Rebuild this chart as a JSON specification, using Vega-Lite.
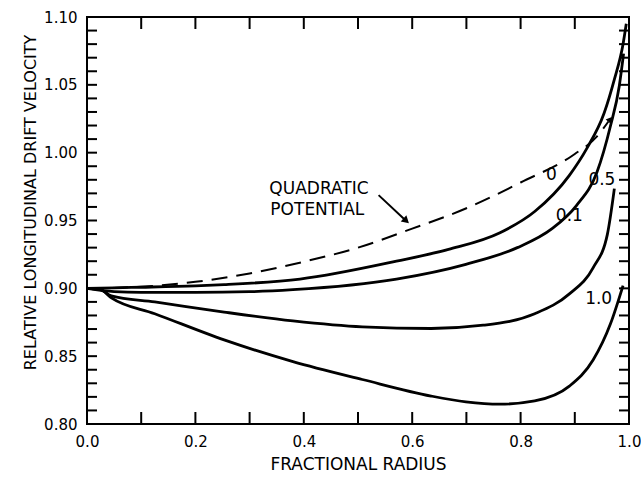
{
  "$schema": "https://vega.github.io/schema/vega-lite/v6.json",
  "width": 542,
  "height": 407,
  "autosize": "none",
  "padding": {"left": 87, "top": 17, "right": 12, "bottom": 54},
  "background": "white",
  "config": {
    "view": {"stroke": "black", "strokeWidth": 2},
    "font": "DejaVu Sans",
    "axis": {"domain": false, "ticks": false, "labelColor": "black", "titleColor": "black", "labelFont": "DejaVu Sans", "titleFont": "DejaVu Sans", "titleFontWeight": "normal", "grid": false}
  },
  "datasets": {
    "curves": [
      {"s": "0", "x": 0, "y": 0.9},
      {"s": "0", "x": 0.05, "y": 0.9004},
      {"s": "0", "x": 0.1, "y": 0.9008},
      {"s": "0", "x": 0.2, "y": 0.9018},
      {"s": "0", "x": 0.253, "y": 0.9027},
      {"s": "0", "x": 0.393, "y": 0.9068},
      {"s": "0", "x": 0.571, "y": 0.92},
      {"s": "0", "x": 0.667, "y": 0.9287},
      {"s": "0", "x": 0.762, "y": 0.941},
      {"s": "0", "x": 0.826, "y": 0.9566},
      {"s": "0", "x": 0.89, "y": 0.9833},
      {"s": "0", "x": 0.922, "y": 1.003},
      {"s": "0", "x": 0.954, "y": 1.029},
      {"s": "0", "x": 0.973, "y": 1.054},
      {"s": "0", "x": 0.989, "y": 1.08},
      {"s": "0", "x": 0.995, "y": 1.095},
      {"s": "0.1", "x": 0, "y": 0.9},
      {"s": "0.1", "x": 0.05, "y": 0.8976},
      {"s": "0.1", "x": 0.1, "y": 0.897},
      {"s": "0.1", "x": 0.2, "y": 0.897},
      {"s": "0.1", "x": 0.3, "y": 0.8975},
      {"s": "0.1", "x": 0.38, "y": 0.899},
      {"s": "0.1", "x": 0.571, "y": 0.9068},
      {"s": "0.1", "x": 0.699, "y": 0.9177},
      {"s": "0.1", "x": 0.794, "y": 0.93},
      {"s": "0.1", "x": 0.858, "y": 0.944},
      {"s": "0.1", "x": 0.903, "y": 0.961},
      {"s": "0.1", "x": 0.941, "y": 0.9857},
      {"s": "0.1", "x": 0.966, "y": 1.02},
      {"s": "0.1", "x": 0.982, "y": 1.049},
      {"s": "0.1", "x": 0.99, "y": 1.073},
      {"s": "0.5", "x": 0, "y": 0.9},
      {"s": "0.5", "x": 0.025, "y": 0.899},
      {"s": "0.5", "x": 0.045, "y": 0.8945},
      {"s": "0.5", "x": 0.125, "y": 0.89},
      {"s": "0.5", "x": 0.253, "y": 0.8825},
      {"s": "0.5", "x": 0.38, "y": 0.876},
      {"s": "0.5", "x": 0.508, "y": 0.8716},
      {"s": "0.5", "x": 0.635, "y": 0.8704},
      {"s": "0.5", "x": 0.731, "y": 0.8728},
      {"s": "0.5", "x": 0.826, "y": 0.8813},
      {"s": "0.5", "x": 0.89, "y": 0.8959},
      {"s": "0.5", "x": 0.934, "y": 0.9153},
      {"s": "0.5", "x": 0.96, "y": 0.9396},
      {"s": "0.5", "x": 0.973, "y": 0.9735},
      {"s": "1.0", "x": 0, "y": 0.9},
      {"s": "1.0", "x": 0.025, "y": 0.899},
      {"s": "1.0", "x": 0.045, "y": 0.893},
      {"s": "1.0", "x": 0.125, "y": 0.8813},
      {"s": "1.0", "x": 0.253, "y": 0.862},
      {"s": "1.0", "x": 0.38, "y": 0.846},
      {"s": "1.0", "x": 0.508, "y": 0.8328},
      {"s": "1.0", "x": 0.635, "y": 0.8206},
      {"s": "1.0", "x": 0.699, "y": 0.8163},
      {"s": "1.0", "x": 0.762, "y": 0.8146},
      {"s": "1.0", "x": 0.826, "y": 0.817},
      {"s": "1.0", "x": 0.89, "y": 0.8279},
      {"s": "1.0", "x": 0.934, "y": 0.8473},
      {"s": "1.0", "x": 0.966, "y": 0.874},
      {"s": "1.0", "x": 0.989, "y": 0.902}
    ],
    "quad": [
      {"x": 0, "y": 0.9},
      {"x": 0.1, "y": 0.9012},
      {"x": 0.2, "y": 0.9048},
      {"x": 0.3, "y": 0.911},
      {"x": 0.4, "y": 0.9196},
      {"x": 0.5, "y": 0.93},
      {"x": 0.6, "y": 0.944},
      {"x": 0.7, "y": 0.959},
      {"x": 0.8, "y": 0.978},
      {"x": 0.9, "y": 0.999},
      {"x": 0.941, "y": 1.012},
      {"x": 0.962, "y": 1.023}
    ],
    "labels": [
      {"t": "QUADRATIC", "x": 0.428, "y": 0.9735},
      {"t": "POTENTIAL", "x": 0.425, "y": 0.9578},
      {"t": "0", "x": 0.857, "y": 0.9833},
      {"t": "0.1", "x": 0.89, "y": 0.9536},
      {"t": "0.5", "x": 0.95, "y": 0.9796},
      {"t": "1.0", "x": 0.944, "y": 0.8922}
    ],
    "arrow": [
      {"x": 0.538, "y": 0.9687, "x2": 0.589, "y2": 0.9497}
    ],
    "dashend": [
      {"x": 0.965, "y": 1.0246}
    ],
    "yticks": [
      {"v": 0.81}, {"v": 0.82}, {"v": 0.83}, {"v": 0.84}, {"v": 0.85}, {"v": 0.86}, {"v": 0.87}, {"v": 0.88}, {"v": 0.89}, {"v": 0.9},
      {"v": 0.91}, {"v": 0.92}, {"v": 0.93}, {"v": 0.94}, {"v": 0.95}, {"v": 0.96}, {"v": 0.97}, {"v": 0.98}, {"v": 0.99}, {"v": 1.0},
      {"v": 1.01}, {"v": 1.02}, {"v": 1.03}, {"v": 1.04}, {"v": 1.05}, {"v": 1.06}, {"v": 1.07}, {"v": 1.08}, {"v": 1.09}
    ],
    "xticks": [
      {"v": 0.1}, {"v": 0.2}, {"v": 0.3}, {"v": 0.4}, {"v": 0.5}, {"v": 0.6}, {"v": 0.7}, {"v": 0.8}, {"v": 0.9}
    ]
  },
  "layer": [
    {
      "data": {"name": "curves"},
      "mark": {"type": "line", "color": "black", "strokeWidth": 2.8, "interpolate": "monotone"},
      "encoding": {
        "x": {"field": "x", "type": "quantitative", "scale": {"domain": [0, 1], "nice": false, "zero": false},
          "axis": {"orient": "bottom", "values": [0, 0.2, 0.4, 0.6, 0.8, 1.0], "labelPadding": 10, "labelFontSize": 15, "format": ".1f", "title": "FRACTIONAL RADIUS", "titleFontSize": 17, "titlePadding": 7, "labelFlush": false, "labelOverlap": false}},
        "y": {"field": "y", "type": "quantitative", "scale": {"domain": [0.8, 1.1], "nice": false, "zero": false},
          "axis": {"orient": "left", "values": [0.8, 0.85, 0.9, 0.95, 1.0, 1.05, 1.1],
            "labelPadding": 10, "labelFontSize": 15, "labelFlush": false, "labelOverlap": false, "format": ".2f",
            "title": "RELATIVE LONGITUDINAL DRIFT VELOCITY", "titleFontSize": 16, "titleX": -57, "titleY": 185, "titleAlign": "center", "titleBaseline": "middle", "titleAngle": 270}},
        "detail": {"field": "s", "type": "nominal"}
      }
    },
    {
      "data": {"name": "quad"},
      "mark": {"type": "line", "color": "black", "strokeWidth": 2, "strokeDash": [16, 9], "interpolate": "monotone"},
      "encoding": {
        "x": {"field": "x", "type": "quantitative"},
        "y": {"field": "y", "type": "quantitative"}
      }
    },
    {
      "data": {"name": "yticks"},
      "mark": {"type": "rule", "color": "black", "strokeWidth": 2},
      "encoding": {
        "y": {"field": "v", "type": "quantitative"},
        "x": {"value": 0},
        "x2": {"condition": {"test": "round(datum.v*100) % 5 == 0", "value": 14}, "value": 10}
      }
    },
    {
      "data": {"name": "yticks"},
      "mark": {"type": "rule", "color": "black", "strokeWidth": 2},
      "encoding": {
        "y": {"field": "v", "type": "quantitative"},
        "x": {"value": 542},
        "x2": {"condition": {"test": "round(datum.v*100) % 5 == 0", "value": 529}, "value": 532}
      }
    },
    {
      "data": {"name": "xticks"},
      "mark": {"type": "rule", "color": "black", "strokeWidth": 2},
      "encoding": {
        "x": {"field": "v", "type": "quantitative"},
        "y": {"value": 407},
        "y2": {"value": 395}
      }
    },
    {
      "data": {"name": "xticks"},
      "mark": {"type": "rule", "color": "black", "strokeWidth": 2},
      "encoding": {
        "x": {"field": "v", "type": "quantitative"},
        "y": {"value": 0},
        "y2": {"value": 12}
      }
    },
    {
      "data": {"name": "labels"},
      "mark": {"type": "text", "fontSize": 17, "color": "black", "align": "center", "baseline": "middle", "font": "DejaVu Sans"},
      "encoding": {
        "x": {"field": "x", "type": "quantitative"},
        "y": {"field": "y", "type": "quantitative"},
        "text": {"field": "t"}
      }
    },
    {
      "data": {"name": "arrow"},
      "mark": {"type": "rule", "color": "black", "strokeWidth": 2},
      "encoding": {
        "x": {"field": "x", "type": "quantitative"},
        "y": {"field": "y", "type": "quantitative"},
        "x2": {"field": "x2"},
        "y2": {"field": "y2"}
      }
    },
    {
      "data": {"name": "arrow"},
      "mark": {"type": "point", "shape": "triangle-up", "filled": true, "color": "black", "size": 70, "angle": 132, "opacity": 1},
      "encoding": {
        "x": {"field": "x2", "type": "quantitative"},
        "y": {"field": "y2", "type": "quantitative"}
      }
    },
    {
      "data": {"name": "dashend"},
      "mark": {"type": "point", "shape": "triangle-up", "filled": true, "color": "black", "size": 45, "angle": 38, "opacity": 1},
      "encoding": {
        "x": {"field": "x", "type": "quantitative"},
        "y": {"field": "y", "type": "quantitative"}
      }
    }
  ]
}
